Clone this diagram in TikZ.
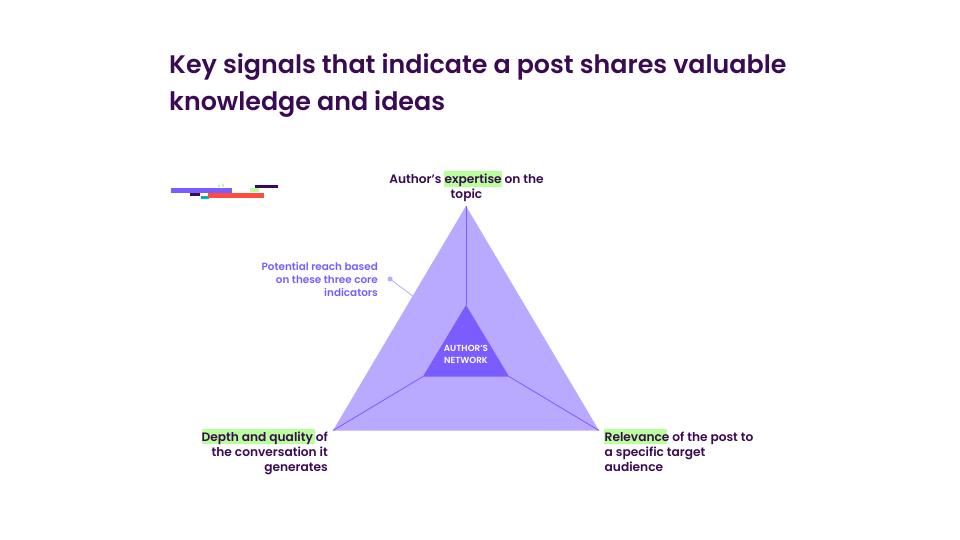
\documentclass[tikz,border=0pt]{standalone}
\usepackage{fontspec}
\usepackage{xcolor}
\setmainfont{Poppins}[BoldFont={Poppins SemiBold}]
\usetikzlibrary{calc,positioning}
\definecolor{inkdark}{HTML}{3A0B52}
\definecolor{violetmain}{HTML}{7B5CFF}
\definecolor{violetsoft}{HTML}{B9AAFF}
\definecolor{marker}{HTML}{B9FF9B}
\definecolor{redbar}{HTML}{FF4D42}
\definecolor{tealbar}{HTML}{00B5B8}
\tikzset{
  signal/.style={text=inkdark,font=\bfseries\fontsize{12.2}{15}\selectfont,inner sep=0pt},
  hint/.style={text=violetmain,font=\bfseries\fontsize{10.4}{13}\selectfont,inner sep=0pt,align=right,anchor=east},
  spoke/.style={violetmain,line width=0.8pt}
}
\begin{document}
\begin{tikzpicture}[x=1pt,y=-1pt]
\useasboundingbox (0,0) rectangle (960,540);
\fill[white] (0,0) rectangle (960,540);
% title
\node[anchor=north west,inner sep=0pt,align=left,text=inkdark,font=\bfseries\fontsize{25.35}{37.5}\selectfont] (title) at (169,53) {Key signals that indicate a post shares valuable\\knowledge and ideas};
% small bars
\fill[violetmain] (171,188) rectangle (232,193);
\fill[inkdark] (189.5,192.5) rectangle (200,196);
\fill[tealbar] (201,195.5) rectangle (209,199);
\fill[redbar] (208,192.5) rectangle (264,197.5);
\fill[marker] (250,187.5) rectangle (259,192);
\fill[inkdark] (255,184.5) rectangle (278,187.5);
\fill[marker] (218,185) rectangle (219.5,186.5);
\fill[marker] (221.5,184) rectangle (224,186.5);
% triangles
\coordinate (top) at (466,206);
\coordinate (left) at (333,430.5);
\coordinate (right) at (599,430.5);
\coordinate (itop) at (466,305);
\coordinate (ileft) at (423,376.5);
\coordinate (iright) at (509,376.5);
\fill[violetsoft] (top)--(right)--(left)--cycle;
\fill[violetmain] (itop)--(iright)--(ileft)--cycle;
\draw[spoke] (top)--(itop);
\draw[spoke] (left)--(ileft);
\draw[spoke] (right)--(iright);
\node[text=white,align=center,inner sep=0pt,font=\bfseries\fontsize{8.8}{11.5}\selectfont] (network) at (466,354.5) {AUTHOR'S\\NETWORK};
% highlights
\fill[marker] (444,171.3) rectangle (501.7,186.7);
\fill[marker] (202,429) rectangle (315,444.3);
\fill[marker] (604.3,429) rectangle (666.7,444.3);
% labels
\node[signal,align=center,anchor=center] (expertise) at (466.5,187.5) {Author's expertise on the\\topic};
\node[signal,align=right,anchor=north east] (depth) at (328,431.5) {Depth and quality of\\the conversation it\\generates};
\node[signal,align=left,anchor=north west] (relevance) at (604.5,431.5) {Relevance of the post to\\a specific target\\audience};
\node[hint] (reach) at (378,279.5) {Potential reach based\\on these three core\\indicators};
% leader
\coordinate (edge) at (414,297);
\fill[violetsoft] (390,279) circle (2.5);
\coordinate (dot) at (390,279);
\draw[violetsoft,line width=0.8pt] (dot)--(edge);
\end{tikzpicture}
\end{document}
